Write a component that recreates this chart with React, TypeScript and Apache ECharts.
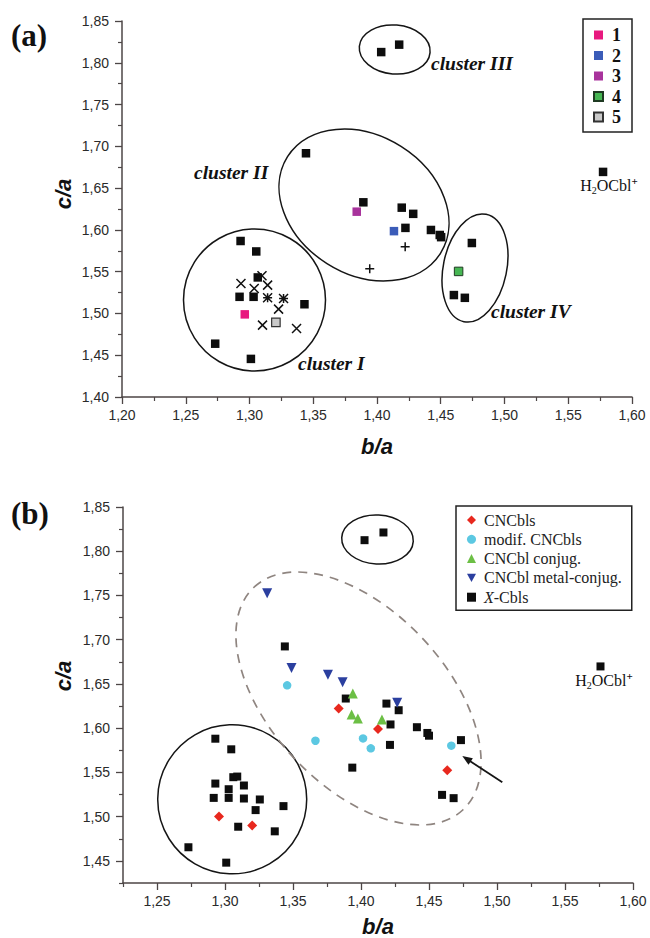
import React, { useEffect, useRef } from 'react';
import * as echarts from 'echarts';

// ---------- Panel (a) data ----------
const aClusterSquares: [number, number][] = [
  // cluster I
  [1.2930, 1.5867], [1.3053, 1.5742], [1.3065, 1.5431], [1.2922, 1.5199], [1.3032, 1.5199],
  [1.3431, 1.5110], [1.2731, 1.4638], [1.3011, 1.4456],
  // cluster II
  [1.3443, 1.6917], [1.3893, 1.6330], [1.4194, 1.6266], [1.4284, 1.6192], [1.4223, 1.6024],
  [1.4423, 1.5999], [1.4492, 1.5939], [1.4503, 1.5913],
  // cluster III
  [1.4033, 1.8128], [1.4174, 1.8217],
  // cluster IV
  [1.4744, 1.5843], [1.4603, 1.5220], [1.4689, 1.5187],
  // H2OCbl+
  [1.5773, 1.6694],
];
const compound1: [number, number][] = [[1.2963, 1.4989]];
const compound2: [number, number][] = [[1.4133, 1.5985]];
const compound3: [number, number][] = [[1.3841, 1.6218]];
const compound4: [number, number][] = [[1.4640, 1.5503]];
const compound5: [number, number][] = [[1.3207, 1.4893]];
const aCrosses: [number, number][] = [
  [1.3098, 1.5451], [1.2933, 1.5359], [1.3037, 1.5299], [1.3142, 1.5339],
  [1.3228, 1.5052], [1.3102, 1.4860], [1.3369, 1.4819],
];
const aStars: [number, number][] = [[1.3142, 1.5187], [1.3267, 1.5179]];
const aPlus: [number, number][] = [[1.4221, 1.5799], [1.3943, 1.5535]];

// ---------- Panel (b) data ----------
const cnCbls: [number, number][] = [
  [1.2956, 1.5003], [1.3200, 1.4901], [1.3836, 1.6222], [1.4125, 1.5991], [1.4634, 1.5524],
];
const modifCnCbls: [number, number][] = [
  [1.3457, 1.6484], [1.3665, 1.5858], [1.4015, 1.5884], [1.4072, 1.5772], [1.4664, 1.5802],
];
const cnCblConjug: [number, number][] = [
  [1.3940, 1.6391], [1.3931, 1.6154], [1.3977, 1.6109], [1.4154, 1.6098],
];
const cnCblMetalConjug: [number, number][] = [
  [1.3310, 1.7525], [1.3489, 1.6680], [1.3757, 1.6605], [1.3865, 1.6520], [1.4266, 1.6286],
];
const xCbls: [number, number][] = [
  [1.2929, 1.5881], [1.3046, 1.5761], [1.3061, 1.5446], [1.3090, 1.5453], [1.2929, 1.5374],
  [1.3139, 1.5352], [1.3027, 1.5310], [1.2917, 1.5212], [1.3027, 1.5212], [1.3139, 1.5205],
  [1.3256, 1.5194], [1.3430, 1.5119], [1.3225, 1.5074], [1.3097, 1.4886], [1.3366, 1.4834],
  [1.2731, 1.4654], [1.3009, 1.4480],
  [1.4026, 1.8125], [1.4165, 1.8212], [1.5761, 1.6698], [1.3440, 1.6924], [1.3888, 1.6335],
  [1.4187, 1.6278], [1.4277, 1.6203], [1.4217, 1.6042], [1.4411, 1.6011], [1.4488, 1.5946],
  [1.4500, 1.5915], [1.4213, 1.5811], [1.3936, 1.5554], [1.4735, 1.5865], [1.4596, 1.5246],
  [1.4681, 1.5209],
];

// ---------- Ticks ----------
const xTicksA = [1.20, 1.25, 1.30, 1.35, 1.40, 1.45, 1.50, 1.55, 1.60];
const xMinorA = [1.225, 1.275, 1.325, 1.375, 1.425, 1.475, 1.525, 1.575];
const yTicksA = [1.40, 1.45, 1.50, 1.55, 1.60, 1.65, 1.70, 1.75, 1.80, 1.85];
const yMinorA = [1.425, 1.475, 1.525, 1.575, 1.625, 1.675, 1.725, 1.775, 1.825];
const xTicksB = [1.25, 1.30, 1.35, 1.40, 1.45, 1.50, 1.55, 1.60];
const xMinorB = [1.225, 1.275, 1.325, 1.375, 1.425, 1.475, 1.525, 1.575];
const yTicksB = [1.45, 1.50, 1.55, 1.60, 1.65, 1.70, 1.75, 1.80, 1.85];
const yMinorB = [1.425, 1.475, 1.525, 1.575, 1.625, 1.675, 1.725, 1.775, 1.825];

const legendA = ['1', '2', '3', '4', '5'];
const legendB = ['CNCbls', 'modif. CNCbls', 'CNCbl conjug.', 'CNCbl metal-conjug.', 'X-Cbls'];

const AXIS_COLOR = '#4d4646';
const LABEL_COLOR = '#2a2a2a';
const fmt = (v: number) => v.toFixed(2).replace('.', ',');

const CROSS = 'path://M0,0L10,10M0,10L10,0';
const PLUS = 'path://M5,0L5,10M0,5L10,5';
const STAR = 'path://M0,0L10,10M0,10L10,0M5,0L5,10M0,5L10,5';
const DOWN_TRI = 'path://M0,0L10,0L5,9Z';

function majorAxis(gridIndex: number, min: number, max: number, ticks: number[], isX: boolean) {
  return {
    type: 'value',
    gridIndex,
    min,
    max,
    position: isX ? 'bottom' : 'left',
    axisLine: { show: true, onZero: false, lineStyle: { color: AXIS_COLOR, width: 1.5 } },
    axisTick: { show: true, inside: false, length: 7, customValues: ticks, lineStyle: { color: AXIS_COLOR, width: 1.3 } },
    axisLabel: {
      show: true,
      customValues: ticks,
      formatter: (v: number) => fmt(v),
      fontFamily: 'Liberation Sans',
      fontSize: 14,
      color: LABEL_COLOR,
      margin: isX ? 11 : 13,
    },
    splitLine: { show: false },
  };
}
function minorAxis(gridIndex: number, min: number, max: number, ticks: number[], isX: boolean) {
  return {
    type: 'value',
    gridIndex,
    min,
    max,
    position: isX ? 'bottom' : 'left',
    axisLine: { show: false, onZero: false },
    axisTick: { show: true, inside: false, length: 4, customValues: ticks, lineStyle: { color: AXIS_COLOR, width: 1.2 } },
    axisLabel: { show: false },
    splitLine: { show: false },
  };
}

const txt = (text: string, x: number, y: number, o: any = {}) => ({
  type: 'text',
  x,
  y,
  rotation: o.rotation || 0,
  style: {
    text,
    fill: o.fill || '#111',
    fontSize: o.fontSize || 16,
    fontFamily: o.fontFamily || 'Liberation Serif',
    fontWeight: o.fontWeight || 'normal',
    fontStyle: o.fontStyle || 'normal',
    align: o.align || 'left',
    verticalAlign: o.verticalAlign || 'middle',
    rich: o.rich,
  },
  z: 10,
});

const solid = { stroke: '#151515', lineWidth: 1.5, fill: 'none' };
const deg = (d: number) => (d * Math.PI) / 180;

const h2oRich = {
  n: { fontFamily: 'Liberation Serif', fontSize: 16, lineHeight: 20, verticalAlign: 'middle', color: '#111' },
  s: { fontFamily: 'Liberation Serif', fontSize: 10, lineHeight: 20, verticalAlign: 'bottom', color: '#111' },
  p: { fontFamily: 'Liberation Serif', fontSize: 11, lineHeight: 20, verticalAlign: 'top', color: '#111', fontWeight: 'bold' },
};

export default function App() {
  const ref = useRef<HTMLDivElement>(null);
  useEffect(() => {
    if (!ref.current) return;
    const chart = echarts.init(ref.current, null, { renderer: 'svg' });
    const sq = (name: string, data: [number, number][], color: string, xi: number, extra: any = {}) => ({
      type: 'scatter',
      name,
      xAxisIndex: xi,
      yAxisIndex: xi,
      data,
      symbol: 'rect',
      symbolSize: 8.5,
      itemStyle: { color, opacity: 1, ...extra },
      z: 3,
    });
    const strokeSym = (name: string, data: [number, number][], symbol: string, size: number) => ({
      type: 'scatter',
      name,
      xAxisIndex: 0,
      yAxisIndex: 0,
      data,
      symbol,
      symbolSize: size,
      itemStyle: { color: 'none', borderColor: '#111', borderWidth: 1.5, opacity: 1 },
      z: 4,
    });
    const pb = (name: string, data: [number, number][], symbol: string, size: number, color: string, z = 4) => ({
      type: 'scatter',
      name,
      xAxisIndex: 2,
      yAxisIndex: 2,
      data,
      symbol,
      symbolSize: size,
      itemStyle: { color, opacity: 1 },
      z,
    });

    chart.setOption({
      animation: false,
      backgroundColor: '#ffffff',
      grid: [
        { left: 122, top: 21, width: 510, height: 376 },
        { left: 123, top: 507, width: 510, height: 376 },
      ],
      xAxis: [
        majorAxis(0, 1.2, 1.6, xTicksA, true),
        minorAxis(0, 1.2, 1.6, xMinorA, true),
        majorAxis(1, 1.225, 1.6, xTicksB, true),
        minorAxis(1, 1.225, 1.6, xMinorB, true),
      ],
      yAxis: [
        majorAxis(0, 1.4, 1.85, yTicksA, false),
        minorAxis(0, 1.4, 1.85, yMinorA, false),
        majorAxis(1, 1.425, 1.85, yTicksB, false),
        minorAxis(1, 1.425, 1.85, yMinorB, false),
      ],
      legend: [
        {
          data: legendA,
          orient: 'vertical',
          left: 583,
          top: 19,
          icon: 'rect',
          itemWidth: 9,
          itemHeight: 9,
          itemGap: 2.5,
          padding: [7, 11, 6, 10],
          borderColor: '#222',
          borderWidth: 1.5,
          textStyle: {
            fontFamily: 'Liberation Serif',
            fontWeight: 'bold',
            fontSize: 18,
            lineHeight: 18,
            color: '#111',
            padding: [0, 0, 0, 4],
          },
        },
        {
          data: legendB,
          orient: 'vertical',
          left: 456,
          top: 506,
          itemWidth: 9,
          itemHeight: 9,
          itemGap: 3.3,
          padding: [6, 10, 5, 11],
          borderColor: '#222',
          borderWidth: 1.5,
          formatter: (name: string) => (name === 'X-Cbls' ? '{i|X}-Cbls' : name),
          textStyle: {
            fontFamily: 'Liberation Serif',
            fontSize: 16,
            lineHeight: 16,
            color: '#222',
            padding: [0, 0, 0, 3],
            rich: { i: { fontFamily: 'Liberation Serif', fontStyle: 'italic', fontSize: 16, lineHeight: 16, color: '#222' } },
          },
        },
      ],
      series: [
        // Panel (a)
        sq('Cbls (a)', aClusterSquares, '#0d0d0d', 0),
        sq('1', compound1, '#e8197f', 0),
        sq('2', compound2, '#3b5cb8', 0),
        sq('3', compound3, '#a8339c', 0),
        sq('4', compound4, '#46b653', 0, { borderColor: '#1f3a22', borderWidth: 1 }),
        sq('5', compound5, '#c9c9c9', 0, { borderColor: '#333', borderWidth: 1.2 }),
        strokeSym('cross', aCrosses, CROSS, 9),
        strokeSym('star', aStars, STAR, 9),
        strokeSym('plus', aPlus, PLUS, 9),
        // Panel (b)
        pb('X-Cbls', xCbls, 'rect', 8, '#0d0d0d', 3),
        pb('CNCbls', cnCbls, 'diamond', 10, '#e8281e'),
        pb('modif. CNCbls', modifCnCbls, 'circle', 8.5, '#5cc8e2'),
        pb('CNCbl conjug.', cnCblConjug, 'triangle', 10, '#6cbf45'),
        pb('CNCbl metal-conjug.', cnCblMetalConjug, DOWN_TRI, 10, '#2b3f9f'),
      ],
      graphic: [
        // panel labels
        txt('(a)', 11, 35, { fontSize: 31, fontWeight: 'bold' }),
        txt('(b)', 11, 513, { fontSize: 31, fontWeight: 'bold' }),
        // axis titles
        txt('c/a', 63, 194, { fontSize: 22, fontWeight: 'bold', fontStyle: 'italic', fontFamily: 'Liberation Sans', align: 'center', rotation: Math.PI / 2 }),
        txt('b/a', 377, 446, { fontSize: 22, fontWeight: 'bold', fontStyle: 'italic', fontFamily: 'Liberation Sans', align: 'center' }),
        txt('c/a', 63, 676, { fontSize: 22, fontWeight: 'bold', fontStyle: 'italic', fontFamily: 'Liberation Sans', align: 'center', rotation: Math.PI / 2 }),
        txt('b/a', 378, 926, { fontSize: 22, fontWeight: 'bold', fontStyle: 'italic', fontFamily: 'Liberation Sans', align: 'center' }),
        // cluster labels
        txt('cluster III', 431, 63, { fontSize: 19.5, fontWeight: 'bold', fontStyle: 'italic' }),
        txt('cluster II', 194, 172, { fontSize: 19.5, fontWeight: 'bold', fontStyle: 'italic' }),
        txt('cluster I', 298, 363, { fontSize: 19.5, fontWeight: 'bold', fontStyle: 'italic' }),
        txt('cluster IV', 491, 311, { fontSize: 19.5, fontWeight: 'bold', fontStyle: 'italic' }),
        // H2OCbl+ labels
        txt('{n|H}{s|2}{n|OCbl}{p|+}', 609, 185, { align: 'center', rich: h2oRich }),
        txt('{n|H}{s|2}{n|OCbl}{p|+}', 604, 680, { align: 'center', rich: h2oRich }),
        // panel (a) cluster outlines
        { type: 'circle', shape: { cx: 254.5, cy: 300, r: 71 }, style: solid, silent: true },
        { type: 'ellipse', x: 364, y: 205, rotation: deg(-32.3), shape: { cx: 0, cy: 0, rx: 90.5, ry: 69.3 }, style: solid, silent: true },
        { type: 'ellipse', x: 394.7, y: 49.5, rotation: deg(-5), shape: { cx: 0, cy: 0, rx: 35.5, ry: 24.5 }, style: solid, silent: true },
        { type: 'ellipse', x: 475, y: 268, rotation: deg(-11.7), shape: { cx: 0, cy: 0, rx: 31.7, ry: 54.8 }, style: solid, silent: true },
        // panel (b) outlines
        { type: 'circle', shape: { cx: 232.2, cy: 799.3, r: 74.5 }, style: solid, silent: true },
        { type: 'ellipse', x: 377.5, y: 539.5, rotation: deg(-3), shape: { cx: 0, cy: 0, rx: 35.8, ry: 24.5 }, style: solid, silent: true },
        {
          type: 'ellipse', x: 358.5, y: 698.5, rotation: deg(-46.8),
          shape: { cx: 0, cy: 0, rx: 152.6, ry: 87.8 },
          style: { stroke: '#8f8580', lineWidth: 1.7, fill: 'none', lineDash: [9, 7] }, silent: true,
        },
        // arrow
        { type: 'line', shape: { x1: 502.3, y1: 782.3, x2: 468, y2: 759.8 }, style: { stroke: '#151515', lineWidth: 1.8 }, silent: true },
        { type: 'polygon', shape: { points: [[462.3, 756], [472.9, 758.2], [468.5, 764.8]] }, style: { fill: '#151515' }, silent: true },
      ],
    });
    return () => chart.dispose();
  }, []);
  return <div ref={ref} style={{ position: 'absolute', left: 0, top: 0, width: 650, height: 938 }} />;
}
